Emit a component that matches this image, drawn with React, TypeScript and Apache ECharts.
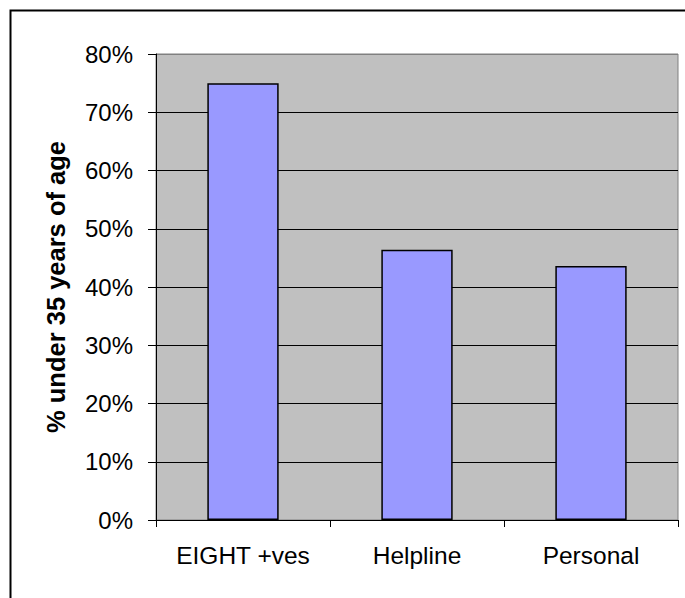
import React, { useEffect, useRef } from "react";
import * as echarts from "echarts";

const categories = ["EIGHT +ves", "Helpline", "Personal"];
const underAge35 = [75, 46.4, 43.6];
const yTicks = [0, 10, 20, 30, 40, 50, 60, 70, 80];

const FONT = "'Liberation Sans', Arial, sans-serif";

export default function App() {
  const ref = useRef<HTMLDivElement>(null);

  useEffect(() => {
    if (!ref.current) return;
    const chart = echarts.init(ref.current, undefined, { renderer: "svg" });
    // top gridline doubles as the plot frame, so it keeps the frame's grey
    const gridColors = yTicks.map((t, i) => (i === yTicks.length - 1 ? "#808080" : "#000000"));
    chart.setOption({
      animation: false,
      backgroundColor: "#ffffff",
      graphic: [
        {
          type: "rect",
          shape: { x: 10.5, y: 10.5, width: 720, height: 640 },
          style: { fill: "none", stroke: "#000000", lineWidth: 2 },
          z: -1,
        },
      ],
      grid: {
        left: 156,
        top: 54,
        right: 7,
        bottom: 78,
        show: true,
        backgroundColor: "#C0C0C0",
        borderColor: "#808080",
        borderWidth: 1,
      },
      xAxis: {
        type: "category",
        data: categories,
        axisLine: { show: true, lineStyle: { color: "#000000", width: 1 } },
        axisTick: { show: true, length: 7, alignWithLabel: false, lineStyle: { color: "#000000" } },
        axisLabel: {
          color: "#000000",
          fontSize: 24.5,
          fontFamily: FONT,
          margin: 23,
          interval: 0,
          hideOverlap: false,
        },
        splitLine: { show: false },
      },
      yAxis: {
        type: "value",
        min: 0,
        max: 80,
        interval: 10,
        name: "% under 35 years of age",
        nameLocation: "middle",
        nameRotate: 90,
        nameGap: 87,
        nameTextStyle: { color: "#000000", fontSize: 25.5, fontWeight: "bold", fontFamily: FONT },
        axisLine: { show: true, lineStyle: { color: "#000000", width: 1 } },
        axisTick: { show: true, inside: false, length: 8, lineStyle: { color: "#000000" } },
        axisLabel: {
          color: "#000000",
          fontSize: 24,
          fontFamily: FONT,
          margin: 23,
          formatter: (v: number) => `${v}%`,
        },
        splitLine: { show: true, lineStyle: { color: gridColors, width: 1 } },
      },
      series: [
        {
          type: "bar",
          data: underAge35,
          barWidth: "41%",
          itemStyle: { color: "#9999FF", borderColor: "#000000", borderWidth: 1.5 },
        },
      ],
    });
    return () => chart.dispose();
  }, []);

  return (
    <div
      ref={ref}
      style={{ position: "absolute", left: 0, top: 0, width: 685, height: 598 }}
    />
  );
}
